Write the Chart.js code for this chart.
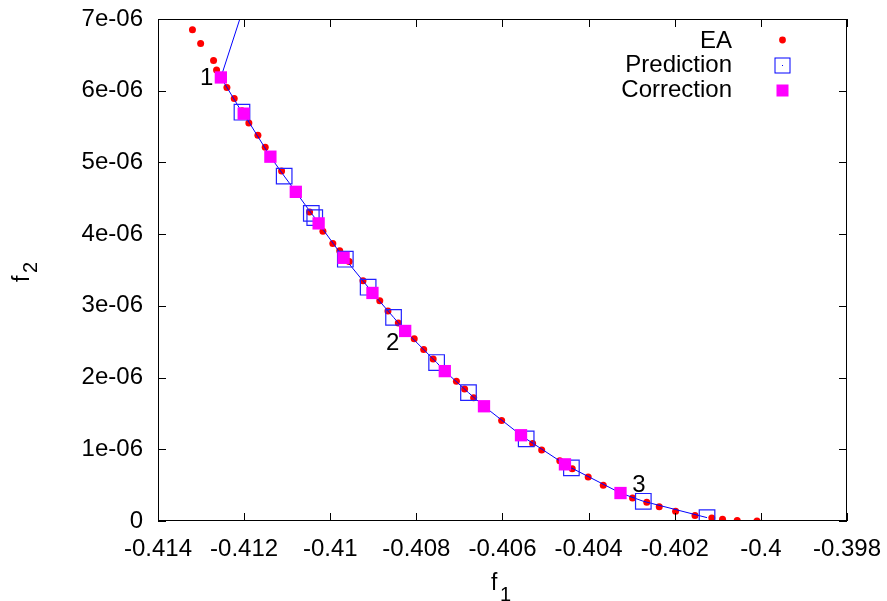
<!DOCTYPE html>
<html>
<head>
<meta charset="utf-8">
<script src="https://cdn.jsdelivr.net/npm/chart.js@4/dist/chart.umd.min.js"></script>
<style>
  html, body { margin: 0; padding: 0; background: #fff; }
  #wrap { width: 887px; height: 601px; }
</style>
</head>
<body>
<div id="wrap"><canvas id="chart" width="887" height="601"></canvas></div>
<script>
// EA front (f1, f2 in units of 1e-6)
const eaF1 = [-0.41320, -0.41301, -0.41271, -0.41264, -0.41240, -0.41223, -0.41205, -0.41189, -0.41168,
  -0.41151, -0.41113, -0.41075, -0.41048, -0.41017, -0.40994, -0.40978, -0.40956, -0.40924, -0.40885,
  -0.40866, -0.40842, -0.40805, -0.40783, -0.40761, -0.40730, -0.40707, -0.40688, -0.40667, -0.40602,
  -0.40530, -0.40509, -0.40467, -0.40438, -0.40401, -0.40366, -0.40298, -0.40265, -0.40236, -0.40198,
  -0.40153, -0.40114, -0.40089, -0.40055, -0.40009];
const eaF2 = [6.85, 6.66, 6.42, 6.29, 6.045, 5.89, 5.72, 5.55, 5.38,
  5.21, 4.88, 4.60, 4.31, 4.04, 3.87, 3.77, 3.62, 3.35, 3.07,
  2.93, 2.76, 2.54, 2.39, 2.26, 2.10, 1.95, 1.84, 1.72, 1.40,
  1.08, 0.99, 0.84, 0.73, 0.614, 0.50, 0.32, 0.26, 0.20, 0.135,
  0.075, 0.042, 0.024, 0.006, 0.0];

// predictor steps
const predF1 = [-0.41205, -0.41107, -0.41044, -0.41036, -0.40965, -0.40912, -0.40853, -0.40753,
  -0.40679, -0.40545, -0.40440, -0.40273, -0.40125];
const predF2 = [5.70, 4.81, 4.29, 4.23, 3.65, 3.26, 2.84, 2.21, 1.79, 1.145, 0.74, 0.275, 0.047];

// corrector steps
const corrF1 = [-0.41254, -0.41201, -0.41139, -0.41080, -0.41027, -0.40969, -0.40902, -0.40826,
  -0.40734, -0.40643, -0.40557, -0.40455, -0.40326];
const corrF2 = [6.185, 5.68, 5.08, 4.59, 4.15, 3.67, 3.18, 2.65, 2.09, 1.60, 1.196, 0.79, 0.39];

// the continuation path starts above the plotted range
const pathStartF1 = [-0.41183];
const pathStartF2 = [7.5];

// numbered annotations
const noteText = ['1', '2', '3'];
const noteF1 = [-0.412869, -0.408548, -0.402834];
const noteF2 = [6.17, 2.48, 0.49];

const xTicksMin = -0.414, xTicksMax = -0.398, xStep = 0.002;
const yTicksMin = 0, yTicksMax = 7, yStep = 1;

const FONT = '"Liberation Sans", Arial, sans-serif';
const FONT_SIZE = 24;
const SCALE = 1e-6;

const toPoints = (xs, ys) => xs.map((x, i) => ({ x: x, y: ys[i] * SCALE }));

const eaPoints = toPoints(eaF1, eaF2);
const predPoints = toPoints(predF1, predF2);
const corrPoints = toPoints(corrF1, corrF2);
// the path walks down the front, alternating predictor and corrector
const pathPoints = toPoints(pathStartF1, pathStartF2)
  .concat(predPoints, corrPoints)
  .sort((a, b) => b.y - a.y);

/**
 * Frame, inward ticks, legend, annotations and axis titles in gnuplot style.
 */
const gnuplotDecor = {
  id: 'gnuplotDecor',
  afterDraw(chart) {
    const ctx = chart.ctx;
    const area = chart.chartArea;
    const xs = chart.scales.x;
    const ys = chart.scales.y;
    const tick = 8;

    ctx.save();
    ctx.strokeStyle = '#000';
    ctx.lineWidth = 1;
    ctx.strokeRect(area.left + 0.5, area.top + 0.5, area.right - area.left - 1, area.bottom - area.top - 1);

    ctx.beginPath();
    xs.ticks.forEach(t => {
      const px = Math.round(xs.getPixelForValue(t.value)) + 0.5;
      ctx.moveTo(px, area.bottom); ctx.lineTo(px, area.bottom - tick);
      ctx.moveTo(px, area.top); ctx.lineTo(px, area.top + tick);
    });
    ys.ticks.forEach(t => {
      const py = Math.round(ys.getPixelForValue(t.value)) + 0.5;
      ctx.moveTo(area.left, py); ctx.lineTo(area.left + tick, py);
      ctx.moveTo(area.right, py); ctx.lineTo(area.right - tick, py);
    });
    ctx.stroke();

    // numbered annotations
    ctx.fillStyle = '#000';
    ctx.font = FONT_SIZE + 'px ' + FONT;
    ctx.textAlign = 'center';
    ctx.textBaseline = 'middle';
    noteText.forEach((txt, i) => {
      ctx.fillText(txt, xs.getPixelForValue(noteF1[i]), ys.getPixelForValue(noteF2[i] * SCALE));
    });

    // legend
    const legend = [
      { label: 'EA', y: 41 },
      { label: 'Prediction', y: 65.5 },
      { label: 'Correction', y: 90 },
    ];
    ctx.textAlign = 'right';
    legend.forEach(item => ctx.fillText(item.label, 732, item.y));
    const mx = 782.5;
    ctx.fillStyle = '#ff0000';
    ctx.beginPath(); ctx.arc(mx, 40, 3.4, 0, Math.PI * 2); ctx.fill();
    ctx.strokeStyle = '#0000ff';
    ctx.strokeRect(mx - 7.5, 65.5 - 7.5, 15, 15);
    ctx.fillStyle = '#0000ff';
    ctx.fillRect(mx - 0.5, 65, 1, 1);
    ctx.fillStyle = '#ff00ff';
    ctx.fillRect(mx - 6, 90.5 - 6, 12, 12);

    // axis titles with subscripts
    ctx.fillStyle = '#000';
    ctx.textAlign = 'left';
    ctx.textBaseline = 'alphabetic';
    ctx.font = '23px ' + FONT;
    ctx.fillText('f', 491, 590);
    ctx.font = '20px ' + FONT;
    ctx.fillText('1', 500, 601);

    ctx.translate(29, 276);
    ctx.rotate(-Math.PI / 2);
    ctx.font = '23px ' + FONT;
    ctx.fillText('f', -6, 0);
    ctx.font = '20px ' + FONT;
    ctx.fillText('2', 3, 8);
    ctx.restore();
  },
};

window.onload = () => {
  const canvas = document.querySelector('#chart');
  new Chart(canvas, {
    type: 'scatter',
    data: {
      datasets: [
        {
          label: 'Correction',
          data: corrPoints,
          pointStyle: 'rect',
          pointRadius: 8.7,
          pointHoverRadius: 8.7,
          backgroundColor: '#ff00ff',
          borderColor: '#ff00ff',
          borderWidth: 0,
          order: 0,
        },
        {
          label: 'Prediction',
          data: predPoints,
          pointStyle: 'rect',
          pointRadius: 11,
          pointHoverRadius: 11,
          backgroundColor: 'rgba(0,0,0,0)',
          borderColor: '#2222ff',
          borderWidth: 1.2,
          order: 1,
        },
        {
          label: 'path',
          data: pathPoints,
          showLine: true,
          pointRadius: 0,
          borderColor: '#0000ff',
          borderWidth: 1,
          order: 2,
        },
        {
          label: 'EA',
          data: eaPoints,
          pointStyle: 'circle',
          pointRadius: 3.5,
          pointHoverRadius: 3.5,
          backgroundColor: '#ff0000',
          borderWidth: 0,
          order: 3,
        },
      ],
    },
    options: {
      responsive: false,
      animation: false,
      events: [],
      layout: { padding: { top: 19, right: 40, left: 0, bottom: 0 } },
      plugins: {
        legend: { display: false },
        tooltip: { enabled: false },
      },
      scales: {
        x: {
          type: 'linear',
          min: xTicksMin,
          max: xTicksMax,
          grid: { display: false, drawTicks: false },
          border: { display: false },
          ticks: {
            stepSize: xStep,
            padding: 14,
            color: '#000',
            font: { family: FONT, size: FONT_SIZE },
            maxRotation: 0,
            autoSkip: false,
            callback: v => parseFloat(v.toFixed(3)).toString(),
          },
          afterFit: scale => {
            scale.height = 80;
            scale.paddingLeft = 0;
            scale.paddingRight = 0;
          },
        },
        y: {
          type: 'linear',
          min: yTicksMin * SCALE,
          max: yTicksMax * SCALE,
          grid: { display: false, drawTicks: false },
          border: { display: false },
          ticks: {
            stepSize: yStep * SCALE,
            padding: 15,
            color: '#000',
            font: { family: FONT, size: FONT_SIZE },
            callback: v => {
              const n = Math.round(v / SCALE);
              return n === 0 ? '0' : n + 'e-06';
            },
          },
          afterFit: scale => {
            scale.width = 158;
            scale.paddingTop = 0;
            scale.paddingBottom = 0;
          },
        },
      },
    },
    plugins: [gnuplotDecor],
  });
};
</script>
</body>
</html>
